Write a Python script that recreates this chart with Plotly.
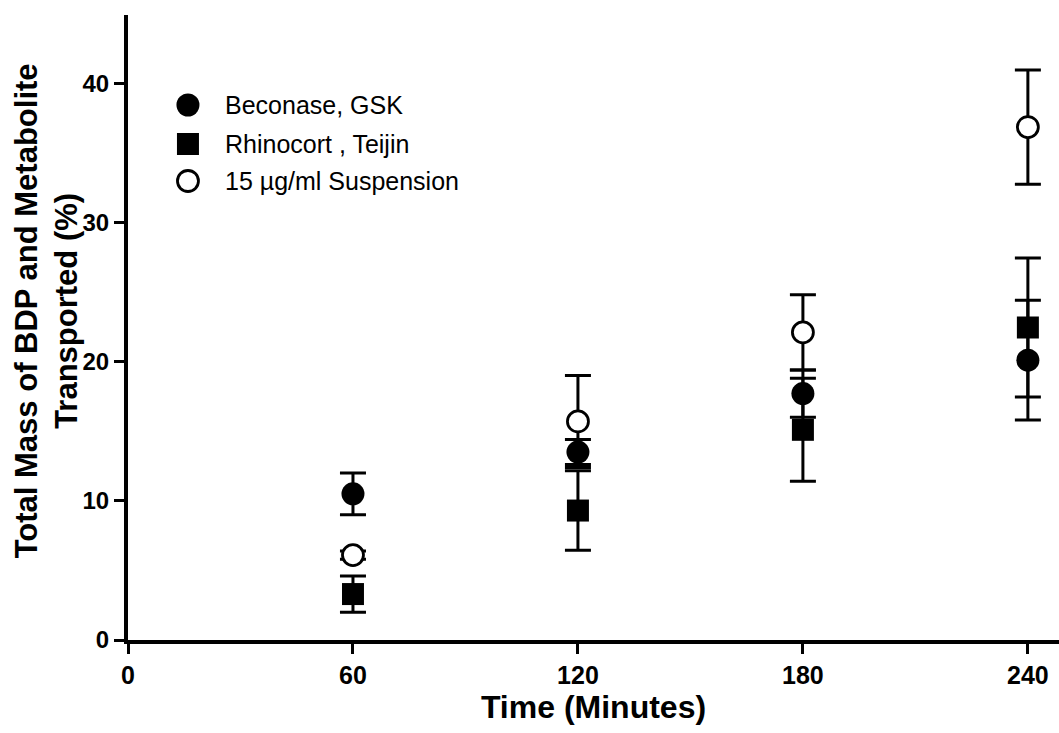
import plotly.graph_objects as go

# Sampling times (minutes)
times = [60, 120, 180, 240]

# Mean % transported and error (±) for each formulation
beconase_mean = [10.5, 13.5, 17.7, 20.1]
beconase_err = [1.5, 0.9, 1.7, 4.3]

rhinocort_mean = [3.3, 9.3, 15.1, 22.45]
rhinocort_err = [1.3, 2.85, 3.7, 5.0]

suspension_mean = [6.1, 15.7, 22.1, 36.85]
suspension_err = [0.3, 3.3, 2.7, 4.1]

series_names = ["Beconase, GSK", "Rhinocort , Teijin", "15 µg/ml Suspension"]

x_ticks = [0, 60, 120, 180, 240]
y_ticks = [0, 10, 20, 30, 40]

BLACK = "#000000"
FONT = "Liberation Sans, Arial, Helvetica, sans-serif"

MARKERS = [
    dict(symbol="circle", size=23, color=BLACK, line=dict(width=0)),
    dict(symbol="square", size=22, color=BLACK, line=dict(width=0)),
    dict(symbol="circle", size=21, color="white", line=dict(width=2.8, color=BLACK)),
]


def err(values):
    return dict(type="data", array=values, visible=True, color=BLACK,
                thickness=3, width=13)


fig = go.Figure()

for name, mean, spread, marker in zip(
        series_names,
        [beconase_mean, rhinocort_mean, suspension_mean],
        [beconase_err, rhinocort_err, suspension_err],
        MARKERS):
    fig.add_trace(go.Scatter(
        x=times, y=mean, mode="markers", name=name, marker=marker,
        error_y=err(spread), showlegend=False,
    ))

# Key in the upper-left corner, drawn on an overlay axis spanning the plot area
key_x = 0.0644
key_rows = [0.856, 0.7936, 0.7344]
for name, row, marker in zip(series_names, key_rows, MARKERS):
    fig.add_trace(go.Scatter(
        x=[key_x], y=[row], xaxis="x2", yaxis="y2", mode="markers",
        marker=marker, showlegend=False, hoverinfo="skip",
    ))
    fig.add_annotation(
        x=0.1020, y=row, xref="x2", yref="y2", text=name, showarrow=False,
        xanchor="left", yanchor="middle",
        font=dict(size=25, family=FONT, color=BLACK),
    )

# Two-line y-axis title
fig.add_annotation(
    x=-0.088, y=0.526, xref="paper", yref="paper", showarrow=False,
    text="Total Mass of BDP and Metabolite<br>Transported (%)",
    textangle=-90, xanchor="center", yanchor="middle", align="center",
    font=dict(size=31, family=FONT, weight="bold", color=BLACK),
)

axis_common = dict(
    showgrid=False, zeroline=False, showline=True, linecolor=BLACK, linewidth=4,
    ticks="outside", ticklen=10, tickwidth=3, tickcolor=BLACK,
)

fig.update_layout(
    width=1059, height=733,
    margin=dict(l=128, r=0, t=15, b=93),
    paper_bgcolor="white", plot_bgcolor="white",
    font=dict(family=FONT, color=BLACK),
    showlegend=False,
    xaxis=dict(
        range=[0, 248.3], tickvals=x_ticks, ticktext=[str(v) for v in x_ticks],
        tickfont=dict(size=25, family=FONT, weight="bold", color=BLACK),
        title=dict(text="Time (Minutes)",
                   font=dict(size=32, family=FONT, weight="bold"), standoff=2),
        **axis_common,
    ),
    yaxis=dict(
        range=[0, 44.9], tickvals=y_ticks, ticktext=[str(v) for v in y_ticks],
        tickfont=dict(size=24, family=FONT, weight="bold", color=BLACK),
        **axis_common,
    ),
    xaxis2=dict(overlaying="x", range=[0, 1], visible=False, domain=[0, 1]),
    yaxis2=dict(overlaying="y", range=[0, 1], visible=False, domain=[0, 1]),
)

fig.write_html("out.html")
